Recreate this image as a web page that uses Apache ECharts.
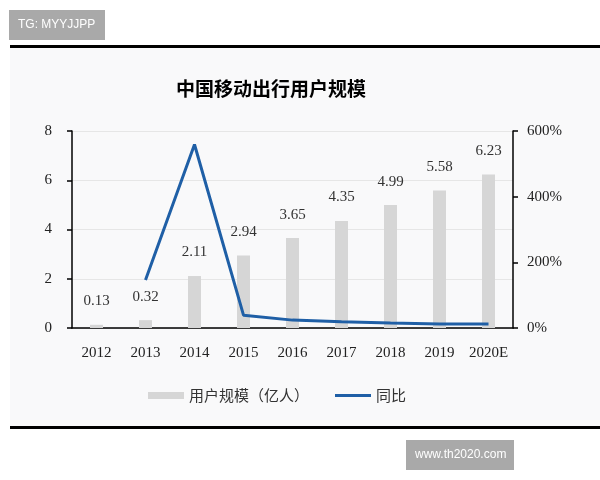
<!DOCTYPE html>
<html>
<head>
<meta charset="utf-8">
<script src="https://cdn.jsdelivr.net/npm/echarts@6/dist/echarts.min.js"></script>
<style>
  html, body { margin: 0; padding: 0; background: #fff; }
  #chart { width: 600px; height: 480px; }
</style>
</head>
<body>
<div id="chart"></div>
<script>
const years = ['2012', '2013', '2014', '2015', '2016', '2017', '2018', '2019', '2020E'];
const users = [0.13, 0.32, 2.11, 2.94, 3.65, 4.35, 4.99, 5.58, 6.23];
// 同比 in %, first year has no value
const yoy = [null, 146, 559, 39, 24, 19, 15, 12, 12];
const leftTicks = [0, 8, 2];
const rightTicks = [0, 600, 200];

const serif = '"Liberation Serif", "DejaVu Serif", serif';
const cjk = '"Noto Sans CJK SC", sans-serif';

const chart = echarts.init(document.getElementById('chart'), null, { renderer: 'canvas' });

chart.setOption({
  animation: false,
  backgroundColor: '#fff',
  title: {
    text: '中国移动出行用户规模',
    left: 171,
    top: 74,
    textStyle: { fontFamily: cjk, fontSize: 19, fontWeight: 'bold', color: '#000' }
  },
  graphic: [
    { type: 'rect', z: -10, shape: { x: 10, y: 47, width: 590, height: 381 }, style: { fill: '#f9f9fa' } },
    { type: 'rect', shape: { x: 9, y: 10, width: 96, height: 30 }, style: { fill: '#a9a9a9' } },
    { type: 'text', x: 18, y: 25, style: { text: 'TG: MYYJJPP', fill: '#fff', font: '12px "Liberation Sans", Arial', verticalAlign: 'middle' } },
    { type: 'rect', shape: { x: 10, y: 45, width: 590, height: 3 }, style: { fill: '#000' } },
    { type: 'rect', shape: { x: 10, y: 426, width: 590, height: 3 }, style: { fill: '#000' } },
    { type: 'rect', shape: { x: 406, y: 440, width: 108, height: 30 }, style: { fill: '#a9a9a9' } },
    { type: 'text', x: 415, y: 455, style: { text: 'www.th2020.com', fill: '#fff', font: '12px "Liberation Sans", Arial', verticalAlign: 'middle' } }
  ],
  legend: {
    left: 143,
    top: 383,
    itemGap: 26,
    itemWidth: 36,
    itemHeight: 7,
    textStyle: { fontFamily: cjk, fontSize: 15, color: '#333' },
    data: [
      { name: '用户规模（亿人）', icon: 'rect' },
      { name: '同比', icon: 'path://M0,0H36V3H0Z' }
    ]
  },
  grid: { left: 72, right: 87, top: 131, bottom: 152 },
  xAxis: {
    type: 'category',
    data: years,
    axisLine: { lineStyle: { color: '#000', width: 1.5 } },
    axisTick: { lineStyle: { color: '#000', width: 1.5 }, length: 5 },
    axisLabel: { interval: 0, margin: 18, fontFamily: serif, fontSize: 15, color: '#222' }
  },
  yAxis: [
    {
      type: 'value', min: leftTicks[0], max: leftTicks[1], interval: leftTicks[2],
      axisLine: { show: true, lineStyle: { color: '#000', width: 1.5 } },
      axisTick: { show: true, length: 5, lineStyle: { color: '#000', width: 1.5 } },
      axisLabel: { margin: 20, fontFamily: serif, fontSize: 15, color: '#222' },
      splitLine: { lineStyle: { color: '#e6e6e6' } }
    },
    {
      type: 'value', min: rightTicks[0], max: rightTicks[1], interval: rightTicks[2],
      axisLine: { show: true, lineStyle: { color: '#000', width: 1.5 } },
      axisTick: { show: true, length: 5, lineStyle: { color: '#000', width: 1.5 } },
      axisLabel: { margin: 14, fontFamily: serif, fontSize: 15, color: '#222', formatter: '{value}%' },
      splitLine: { show: false }
    }
  ],
  series: [
    {
      name: '用户规模（亿人）',
      type: 'bar',
      data: users,
      barWidth: 13,
      itemStyle: { color: '#d6d6d6' },
      label: {
        show: true, position: 'top', distance: 16,
        fontFamily: serif, fontSize: 15, color: '#333'
      }
    },
    {
      name: '同比',
      type: 'line',
      yAxisIndex: 1,
      data: yoy,
      symbol: 'none',
      z: 5,
      itemStyle: { color: '#1f5fa6' },
      lineStyle: { color: '#1f5fa6', width: 3 }
    }
  ]
});
</script>
</body>
</html>
